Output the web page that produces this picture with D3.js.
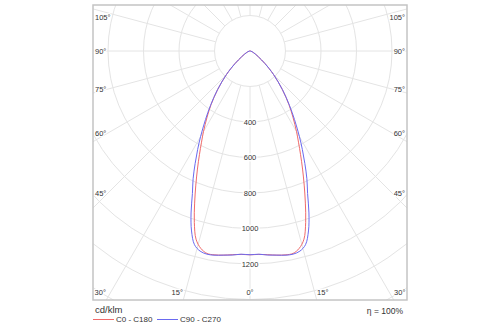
<!DOCTYPE html>
<html>
<head>
<meta charset="utf-8">
<script src="https://cdn.jsdelivr.net/npm/d3@7"></script>
<style>
  html, body { margin: 0; padding: 0; background: #fff; }
  svg { display: block; }
  text { font-family: "Liberation Sans", Arial, sans-serif; fill: #333; }
</style>
</head>
<body>
<svg id="chart" width="500" height="325"></svg>
<script>
// Gamma angles (degrees from nadir) and luminous intensity in cd/klm
const gammaAngles = [0, 2.5, 5, 7.5, 10, 12, 14, 16, 18, 20, 22, 24, 26, 28, 30, 33, 36, 40, 45, 50, 55, 60, 70, 80, 90];
const seriesC0C180 = [1148, 1147, 1152, 1160, 1166, 1166, 1146, 1103, 1015, 912, 815, 728, 650, 582, 524, 444, 373, 283, 188, 110, 59, 35, 14, 5, 0];
const seriesC90C270 = [1148, 1146, 1154, 1160, 1168, 1170, 1162, 1135, 1066, 971, 866, 788, 705, 628, 557, 460, 378, 285, 188, 110, 59, 35, 14, 5, 0];
const seriesNames = ["C0 - C180", "C90 - C270"];
const seriesColors = ["#f06a6a", "#6a6af0"];

// Grid and tick labels
const ringValues = [200, 400, 600, 800, 1000, 1200, 1400, 1600, 1800, 2000];
const ringLabels = [400, 600, 800, 1000, 1200];
const spokeAngles = d3.range(0, 360, 15);
const sideAngleLabels = [105, 90, 75, 60, 45];
const bottomAngleLabels = [30, 15, 0, 15, 30];
const unitLabel = "cd/klm";
const efficiencyLabel = "η = 100%";

const svg = d3.select("#chart");
const box = { x0: 93, y0: 5, x1: 407, y1: 300 };
const cx = 250, cy = 51;

const r = d3.scaleLinear().domain([0, 1200]).range([0, 213]);
const rad = d => d * Math.PI / 180;

svg.append("defs").append("clipPath").attr("id", "frame")
  .append("rect")
  .attr("x", box.x0).attr("y", box.y0)
  .attr("width", box.x1 - box.x0).attr("height", box.y1 - box.y0);

const plot = svg.append("g").attr("clip-path", "url(#frame)");
const polar = plot.append("g").attr("transform", `translate(${cx},${cy})`);

// Concentric intensity rings
polar.selectAll("circle.ring").data(ringValues).join("circle")
  .attr("class", "ring")
  .attr("r", d => r(d))
  .attr("fill", "none")
  .attr("stroke", "#e4e4e4")
  .attr("stroke-width", 1);

// Radial spokes every 15 degrees, starting at the first ring
polar.selectAll("line.spoke").data(spokeAngles).join("line")
  .attr("class", "spoke")
  .attr("x1", d => r(200) * Math.sin(rad(d)))
  .attr("y1", d => r(200) * Math.cos(rad(d)))
  .attr("x2", d => r(2400) * Math.sin(rad(d)))
  .attr("y2", d => r(2400) * Math.cos(rad(d)))
  .attr("stroke", "#e4e4e4")
  .attr("stroke-width", 1);

// Intensity curves: right half is C0 / C90, mirrored left half is C180 / C270
const radial = d3.lineRadial()
  .angle(d => d.a)
  .radius(d => r(d.v))
  .curve(d3.curveCatmullRom.alpha(0.5));

function polarPoints(values) {
  const left = gammaAngles.map((g, i) => ({ a: Math.PI + rad(g), v: values[i] })).reverse();
  const right = gammaAngles.slice(1).map((g, i) => ({ a: Math.PI - rad(g), v: values[i + 1] }));
  return left.concat(right);
}

[seriesC0C180, seriesC90C270].forEach((vals, i) => {
  polar.append("path")
    .attr("d", radial(polarPoints(vals)))
    .attr("fill", "none")
    .attr("stroke", seriesColors[i])
    .attr("stroke-width", 1);
});

// Ring value labels along the nadir axis
polar.selectAll("text.ringLabel").data(ringLabels).join("text")
  .attr("class", "ringLabel")
  .attr("x", 0)
  .attr("y", d => r(d))
  .attr("dy", "0.35em")
  .attr("text-anchor", "middle")
  .attr("font-size", 7.5)
  .attr("stroke", "#fff").attr("stroke-width", 3).attr("paint-order", "stroke")
  .text(d => d);

// Angle labels along the left and right edges
const sideInset = 8;
sideAngleLabels.forEach(a => {
  const dx = cx - box.x0 - sideInset - 7;
  let y = cy + dx / Math.tan(rad(a));
  y = Math.max(y, box.y0 + 12);
  [[box.x0 + 2, "start"], [box.x1 - 2, "end"]].forEach(([x, anchor]) => {
    svg.append("text")
      .attr("x", x).attr("y", y).attr("dy", "0.35em")
      .attr("text-anchor", anchor)
      .attr("font-size", 7.5)
      .attr("stroke", "#fff").attr("stroke-width", 2.5).attr("paint-order", "stroke")
      .text(a + "°");
  });
});

// Angle labels along the bottom edge
bottomAngleLabels.forEach((a, i) => {
  const side = i < 2 ? -1 : (i > 2 ? 1 : 0);
  const off = (box.y1 - cy) * Math.tan(rad(a)) + (a ? 6 : 0);
  svg.append("text")
    .attr("x", cx + side * off).attr("y", box.y1 - 8).attr("dy", "0.35em")
    .attr("text-anchor", "middle")
    .attr("font-size", 7.5)
    .attr("stroke", "#fff").attr("stroke-width", 2.5).attr("paint-order", "stroke")
    .text(a + "°");
});

// Frame
svg.append("rect")
  .attr("x", box.x0).attr("y", box.y0)
  .attr("width", box.x1 - box.x0).attr("height", box.y1 - box.y0)
  .attr("fill", "none").attr("stroke", "#c4c4c4").attr("stroke-width", 1.5);

// Unit, legend and efficiency
svg.append("text").attr("x", box.x0 + 2).attr("y", 313)
  .attr("font-size", 9.5).text(unitLabel);

svg.append("text").attr("x", box.x1 - 4).attr("y", 314)
  .attr("text-anchor", "end").attr("font-size", 8.5).text(efficiencyLabel);

const legendX = [93, 157];
seriesNames.forEach((name, i) => {
  const g = svg.append("g").attr("transform", `translate(${legendX[i]},319.5)`);
  g.append("line").attr("x1", 0).attr("x2", 21).attr("y1", 0).attr("y2", 0)
    .attr("stroke", seriesColors[i]).attr("stroke-width", 1);
  g.append("text").attr("x", 23).attr("y", 0).attr("dy", "0.35em")
    .attr("font-size", 8).text(name);
});
</script>
</body>
</html>
